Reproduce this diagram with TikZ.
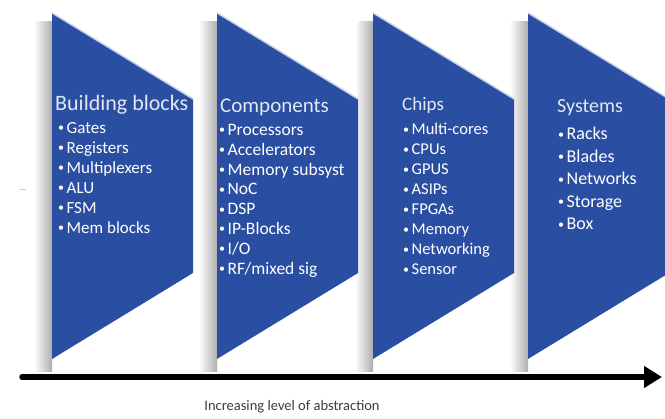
\documentclass[tikz,border=0pt]{standalone}
\usepackage{fontspec}
\setmainfont{Carlito}
\usepackage{tikz}
\usetikzlibrary{arrows.meta}
\definecolor{stageblue}{RGB}{42,78,162}
\definecolor{edgelight}{RGB}{196,208,232}
\definecolor{headtext}{RGB}{226,231,242}
\definecolor{captiongray}{RGB}{60,60,60}
\newcommand{\itm}{\raisebox{1.5pt}{\fontsize{12}{12}\selectfont\textbullet}\hspace{2.5pt}}
\tikzstyle{stage} = [fill=stageblue]
\tikzstyle{shadowband} = [left color=white, right color=black!32]
\tikzstyle{topedge} = [draw=edgelight, line width=1.4pt]
\tikzstyle{heading} = [anchor=west, inner sep=0pt, text=headtext]
\tikzstyle{bullets} = [anchor=north west, inner sep=0pt, align=left, text=white]
\tikzstyle{axis} = [line width=5.5pt, line cap=round, -{Triangle[length=18pt,width=21pt]}]

\begin{document}
\begin{tikzpicture}[x=1pt, y=-1pt]
\clip (0,0) rectangle (665,419);

\shade[shadowband] (34,22) rectangle (52,372);
\shade[shadowband] (199,22) rectangle (217,372);
\shade[shadowband] (355,22) rectangle (373,372);
\shade[shadowband] (510,22) rectangle (528,372);

\fill[stage] (52,13) -- (193,99) -- (193,273) -- (52,359) -- cycle;
\fill[stage] (217,13) -- (358,99) -- (358,273) -- (217,359) -- cycle;
\fill[stage] (373,13) -- (514,99) -- (514,273) -- (373,359) -- cycle;
\fill[stage] (528,13) -- (669,99) -- (669,273) -- (528,359) -- cycle;
\draw[topedge] (52,13) -- (193,99);
\draw[topedge] (217,13) -- (358,99);
\draw[topedge] (373,13) -- (514,99);
\draw[topedge] (528,13) -- (669,99);

\node (blocksHead) [heading, font=\fontsize{22}{24}\selectfont] at (55,105) {Building blocks};
\node (blocksList) [bullets, font=\fontsize{17}{20}\selectfont] at (58,122) {\itm Gates \\ \itm Registers \\ \itm Multiplexers \\ \itm ALU \\ \itm FSM \\ \itm Mem blocks};

\node (compHead) [heading, font=\fontsize{21}{24}\selectfont] at (220,107) {Components};
\node (compList) [bullets, font=\fontsize{17.5}{19.8}\selectfont] at (219,124) {\itm Processors \\ \itm Accelerators \\ \itm Memory subsyst \\ \itm NoC \\ \itm DSP \\ \itm IP-Blocks \\ \itm I/O \\ \itm RF/mixed sig};

\node (chipsHead) [heading, font=\fontsize{19}{22}\selectfont] at (402,105) {Chips};
\node (chipsList) [bullets, font=\fontsize{16.5}{20}\selectfont] at (403,123) {\itm Multi-cores \\ \itm CPUs \\ \itm GPUS \\ \itm ASIPs \\ \itm FPGAs \\ \itm Memory \\ \itm Networking \\ \itm Sensor};

\node (sysHead) [heading, font=\fontsize{20}{23}\selectfont] at (557,108) {Systems};
\node (sysList) [bullets, font=\fontsize{18}{22.5}\selectfont] at (558,127) {\itm Racks \\ \itm Blades \\ \itm Networks \\ \itm Storage \\ \itm Box};

\node (dots) [text=gray, font=\fontsize{9}{9}\selectfont] at (23,190) {...};

\coordinate (axisStart) at (22,377);
\coordinate (axisEnd) at (662,377);
\draw[axis] (axisStart) -- (axisEnd);

\node (caption) [text=captiongray, font=\fontsize{14.5}{16}\selectfont] at (292,407) {Increasing level of abstraction};

\end{tikzpicture}
\end{document}
